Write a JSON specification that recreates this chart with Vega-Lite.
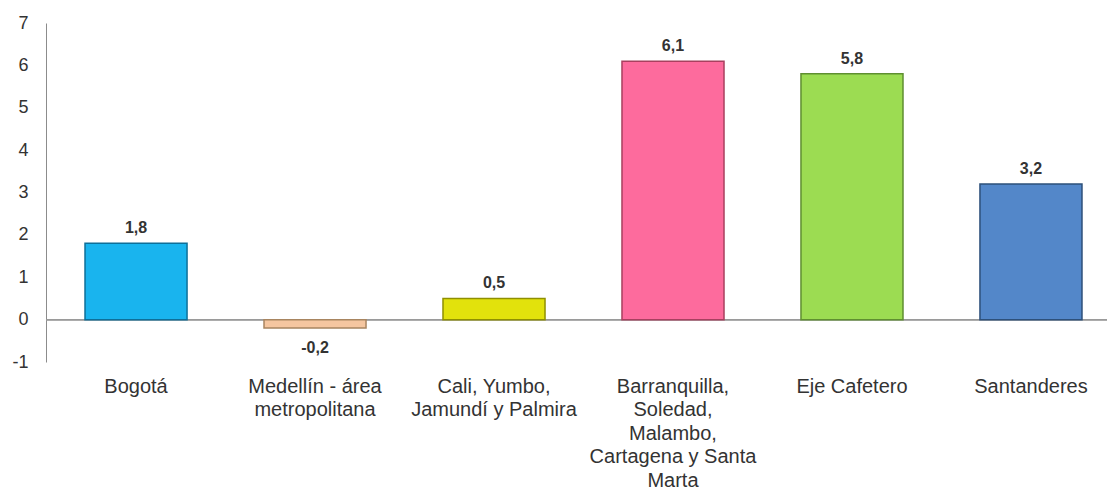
{
  "$schema": "https://vega.github.io/schema/vega-lite/v6.json",
  "width": 1061,
  "height": 339,
  "autosize": {"type": "none"},
  "padding": {"left": 46, "top": 23, "right": 0, "bottom": 129},
  "background": "white",
  "config": {
    "view": {"stroke": null},
    "font": "Liberation Sans",
    "locale": {"number": {"decimal": ",", "thousands": ".", "grouping": [3], "currency": ["$", ""], "minus": "-"}}
  },
  "data": {
    "values": [
      {"region": "Bogotá", "value": 1.8},
      {"region": "Medellín - área metropolitana", "value": -0.2},
      {"region": "Cali, Yumbo, Jamundí y Palmira", "value": 0.5},
      {"region": "Barranquilla, Soledad, Malambo, Cartagena y Santa Marta", "value": 6.1},
      {"region": "Eje Cafetero", "value": 5.8},
      {"region": "Santanderes", "value": 3.2}
    ]
  },
  "encoding": {
    "x": {
      "field": "region",
      "type": "nominal",
      "sort": null,
      "scale": {"paddingInner": 0.43, "paddingOuter": 0.218, "range": [0, 1075]},
      "axis": {
        "title": null,
        "orient": "bottom",
        "domain": false,
        "ticks": false,
        "labelAngle": 0,
        "labelFontSize": 20,
        "labelColor": "#333333",
        "labelPadding": 14,
        "labelLineHeight": 23.5,
        "labelBaseline": "top",
        "labelLimit": 300,
        "labelOverlap": false,
        "labelExpr": "datum.value == 'Medellín - área metropolitana' ? ['Medellín - área', 'metropolitana'] : datum.value == 'Cali, Yumbo, Jamundí y Palmira' ? ['Cali, Yumbo,', 'Jamundí y Palmira'] : datum.value == 'Barranquilla, Soledad, Malambo, Cartagena y Santa Marta' ? ['Barranquilla,', 'Soledad,', 'Malambo,', 'Cartagena y Santa', 'Marta'] : datum.value"
      }
    },
    "y": {
      "field": "value",
      "type": "quantitative",
      "scale": {"domain": [-1, 7], "nice": false},
      "axis": {
        "title": null,
        "grid": false,
        "ticks": false,
        "values": [-1, 0, 1, 2, 3, 4, 5, 6, 7],
        "labelOverlap": false,
        "domainColor": "#8c8c8c",
        "labelFontSize": 18,
        "labelColor": "#333333",
        "labelPadding": 18,
        "format": "d"
      }
    }
  },
  "layer": [
    {
      "mark": {"type": "rule", "color": "#9a9a9a", "strokeWidth": 1.2},
      "encoding": {"y": {"datum": 0}, "x": null}
    },
    {
      "mark": {"type": "bar", "strokeWidth": 1.5},
      "encoding": {
        "fill": {
          "field": "region",
          "type": "nominal",
          "sort": null,
          "legend": null,
          "scale": {"range": ["#19b4ee", "#f5c6a0", "#e2e20c", "#fd6b9d", "#9cdc52", "#5387c9"]}
        },
        "stroke": {
          "field": "region",
          "type": "nominal",
          "sort": null,
          "legend": null,
          "scale": {"range": ["#0d6f99", "#a88560", "#8f8f00", "#a8405f", "#5f8f30", "#2d507a"]}
        }
      }
    },
    {
      "transform": [{"filter": "datum.value >= 0"}],
      "mark": {"type": "text", "baseline": "bottom", "dy": -7, "fontSize": 16, "fontWeight": "bold", "color": "#333333"},
      "encoding": {"text": {"field": "value", "type": "quantitative", "format": ".1f"}}
    },
    {
      "transform": [{"filter": "datum.value < 0"}],
      "mark": {"type": "text", "baseline": "top", "dy": 12, "fontSize": 16, "fontWeight": "bold", "color": "#333333"},
      "encoding": {"text": {"field": "value", "type": "quantitative", "format": ".1f"}}
    }
  ]
}
